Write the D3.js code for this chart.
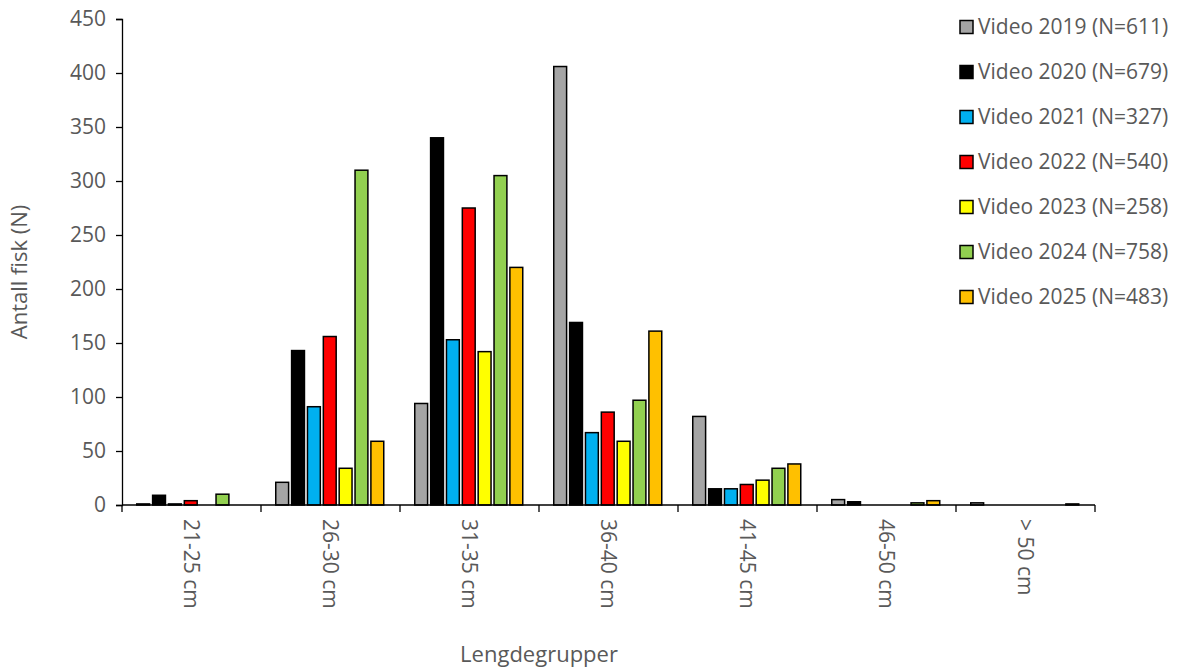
<!DOCTYPE html>
<html>
<head>
<meta charset="utf-8">
<script src="https://cdn.jsdelivr.net/npm/d3@7"></script>
<style>
  html, body { margin: 0; padding: 0; background: #fff; }
  svg { display: block; }
  text { font-family: "Open Sans", "Noto Sans", sans-serif; fill: #595959; }
</style>
</head>
<body>
<svg id="chart" width="1181" height="668"></svg>
<script>
const categories = ["21-25 cm", "26-30 cm", "31-35 cm", "36-40 cm", "41-45 cm", "46-50 cm", "> 50 cm"];
const seriesNames = ["Video 2019 (N=611)", "Video 2020 (N=679)", "Video 2021 (N=327)", "Video 2022 (N=540)", "Video 2023 (N=258)", "Video 2024 (N=758)", "Video 2025 (N=483)"];
const v2019 = [1, 21, 94, 406, 82, 5, 2];
const v2020 = [9, 143, 340, 169, 15, 3, 0];
const v2021 = [1, 91, 153, 67, 15, 0, 0];
const v2022 = [4, 156, 275, 86, 19, 0, 0];
const v2023 = [0, 34, 142, 59, 23, 0, 0];
const v2024 = [10, 310, 305, 97, 34, 2, 0];
const v2025 = [0, 59, 220, 161, 38, 4, 1];
const yTicks = [0, 50, 100, 150, 200, 250, 300, 350, 400, 450];
const colors = ["#A5A5A5", "#000000", "#00B0F0", "#FF0000", "#FFFF00", "#92D050", "#FFC000"];
const yTitle = "Antall fisk (N)";
const xTitle = "Lengdegrupper";

const seriesValues = [v2019, v2020, v2021, v2022, v2023, v2024, v2025];

const svg = d3.select("#chart");
const mLeft = 122, mRight = 1095, mTop = 19, mBottom = 505;

const x = d3.scaleBand().domain(categories).range([mLeft, mRight]).padding(0);
const xs = d3.scaleBand().domain(seriesNames).range([14, x.bandwidth() - 14]).padding(0);
const y = d3.scaleLinear().domain([0, 450]).range([mBottom, mTop]);

// bars
seriesNames.forEach((s, si) => {
  svg.append("g").selectAll("rect")
    .data(seriesValues[si].map((v, i) => ({ c: categories[i], v })).filter(d => d.v > 0))
    .join("rect")
    .attr("x", d => x(d.c) + xs(s) + 0.75)
    .attr("y", d => y(d.v))
    .attr("width", xs.bandwidth() - 3)
    .attr("height", d => y(0) - y(d.v))
    .attr("fill", colors[si])
    .attr("stroke", "#000")
    .attr("stroke-width", 1.5);
});

// y axis
const yAxis = svg.append("g")
  .attr("transform", `translate(${mLeft},0)`)
  .call(d3.axisLeft(y).tickValues(yTicks).tickSize(6).tickPadding(10));
yAxis.select(".domain").attr("stroke", "#000").attr("stroke-width", 1.3);
yAxis.selectAll(".tick line").attr("stroke", "#000").attr("stroke-width", 1.3);
yAxis.selectAll(".tick text").style("font-size", "21px").style("font-family", "'Open Sans', sans-serif").attr("fill", "#595959");

// x axis
const xg = svg.append("g");
xg.append("line").attr("x1", mLeft).attr("x2", mRight).attr("y1", mBottom).attr("y2", mBottom)
  .attr("stroke", "#000").attr("stroke-width", 1.3);
const boundaries = categories.map(c => x(c)).concat([x(categories[categories.length - 1]) + x.bandwidth()]);
xg.selectAll("line.tk").data(boundaries).join("line").attr("class", "tk")
  .attr("x1", d => d).attr("x2", d => d).attr("y1", mBottom).attr("y2", mBottom + 7)
  .attr("stroke", "#000").attr("stroke-width", 1.3);
xg.selectAll("text").data(categories).join("text")
  .attr("transform", d => `translate(${x(d) + x.bandwidth() / 2},519) rotate(90)`)
  .attr("text-anchor", "start")
  .attr("dy", "0.35em")
  .style("font-size", "21px")
  .text(d => d);

// axis titles
svg.append("text")
  .attr("transform", "translate(27,272) rotate(-90)")
  .attr("text-anchor", "middle")
  .style("font-size", "22px")
  .text(yTitle);
svg.append("text")
  .attr("x", 539).attr("y", 662)
  .attr("text-anchor", "middle")
  .style("font-size", "22px")
  .text(xTitle);

// legend
const lg = svg.append("g");
seriesNames.forEach((s, i) => {
  const cy = 27 + i * 45;
  lg.append("rect").attr("x", 960).attr("y", cy - 6.5).attr("width", 13).attr("height", 13)
    .attr("fill", colors[i]).attr("stroke", "#000").attr("stroke-width", 1.5);
  lg.append("text").attr("x", 978).attr("y", cy).attr("dy", "0.35em")
    .style("font-size", "21px").text(s);
});
</script>
</body>
</html>
